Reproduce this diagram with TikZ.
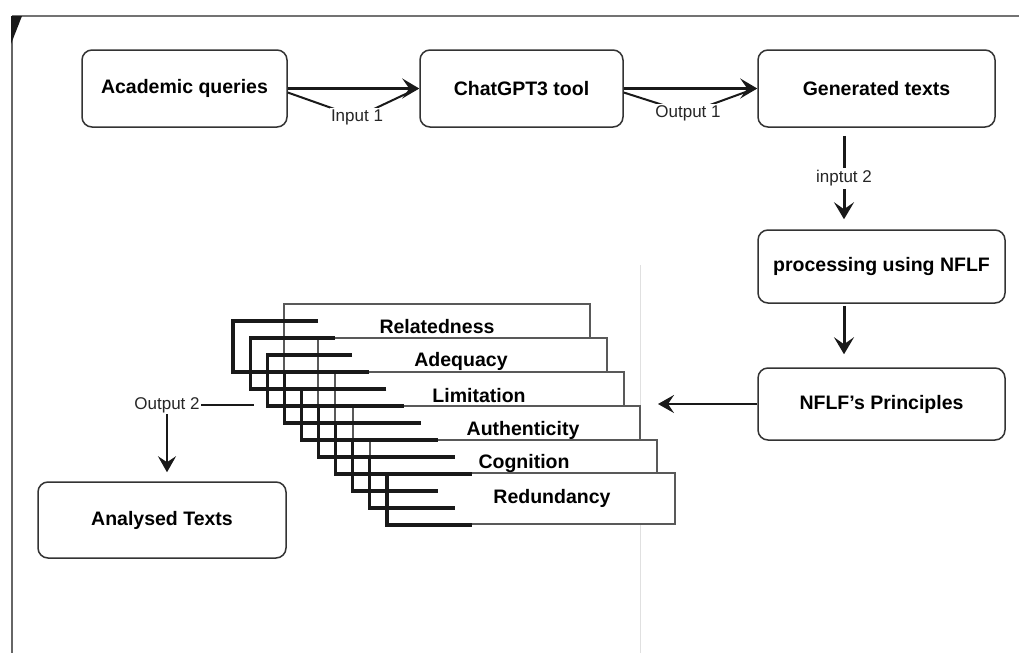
\documentclass[tikz,border=0pt]{standalone}
\usepackage{fontspec}
\setmainfont{Liberation Sans}
\usetikzlibrary{arrows.meta}
\begin{document}
\begin{tikzpicture}[x=1pt,y=-1pt,
  box/.style={draw=black!80, line width=1.5pt, rounded corners=10pt, fill=white, inner sep=0pt,
    font=\fontsize{19.5}{23}\selectfont\bfseries},
  lbl/.style={font=\fontsize{17}{20}\selectfont, text=black!85, inner sep=1.5pt},
  tab/.style={draw=black!65, line width=1.4pt, fill=white},
  tablbl/.style={font=\fontsize{19.5}{23}\selectfont\bfseries, inner sep=0pt},
  brk/.style={draw=black!90, line width=3.2pt},
  arr/.style={draw=black!90, line width=3pt, -{Stealth[length=17pt,width=20pt,inset=7pt]}},
  arrs/.style={draw=black!90, line width=2.8pt, -{Stealth[length=16pt,width=18pt,inset=6pt]}},
  diag/.style={draw=black!90, line width=2pt}]
\useasboundingbox (0,0) rectangle (1019,653);
% frame
\draw[black!55, line width=2pt] (12,16) -- (1019,16);
\draw[black!60, line width=2pt] (12,16) -- (12,653);
\fill[black!90] (11,16) -- (22,16) -- (11,44) -- cycle;
\draw[black!12, line width=1pt] (640,265) -- (640,653);

% main boxes
\node[box, minimum width=205pt, minimum height=77pt] (aq) at (184.5,88.5) {Academic queries};
\node[box, minimum width=203pt, minimum height=77pt] (cg) at (521.5,88.5) {ChatGPT3 tool};
\node[box, minimum width=237pt, minimum height=77pt] (gt) at (876.5,88.5) {Generated texts};
\node[box, minimum width=247pt, minimum height=73pt] (proc) at (881.5,266.5) {processing using NFLF};
\node[box, minimum width=247pt, minimum height=72pt] (nflf) at (881.5,404) {NFLF's Principles};
\node[box, minimum width=248pt, minimum height=76pt] (at) at (162,520) {Analysed Texts};

% top connectors
\draw[arr] (aq.east) -- (cg.west);
\draw[arr] (cg.east) -- (gt.west);
\coordinate (in1pos) at (357,117);
\coordinate (out1pos) at (688,113);
\draw[diag] ([yshift=-4pt]aq.east) -- (in1pos) -- ([xshift=-2pt]cg.west);
\draw[diag] ([yshift=-4pt]cg.east) -- (out1pos) -- ([xshift=-2pt]gt.west);
\node[lbl, fill=white] (in1) at (in1pos) {Input 1};
\node[lbl, fill=white] (out1) at (out1pos) {Output 1};

% vertical connectors
\draw[arr, shorten <=8pt, shorten >=10pt] ([xshift=-32.5pt]gt.south) -- node[lbl, fill=white, inner sep=3pt] (in2) {inptut 2} ([xshift=-37.5pt]proc.north);
\draw[arr, shorten <=2pt, shorten >=13pt] ([xshift=-37.5pt]proc.south) -- ([xshift=-37.5pt]nflf.north);

% tabs
\draw[tab] (284,304) rectangle (590,372);
\draw[tab] (318,338) rectangle (607,406);
\draw[tab] (335,372) rectangle (624,440);
\draw[tab] (353,406) rectangle (640,474);
\draw[tab] (370,440) rectangle (657,508);
\draw[tab] (387,473) rectangle (675,524);
\node[tablbl] (t1) at (437,327) {Relatedness};
\node[tablbl] (t2) at (461,361) {Adequacy};
\node[tablbl] (t3) at (479,396) {Limitation};
\node[tablbl] (t4) at (523,430) {Authenticity};
\node[tablbl] (t5) at (524,463) {Cognition};
\node[tablbl] (t6) at (552,498) {Redundancy};
% brackets
\foreach \k in {0,...,9} {
  \pgfmathsetmacro{\bx}{233+17.1*\k}
  \pgfmathsetmacro{\by}{321+17*\k}
  \draw[brk] (\bx+85,\by) -- (\bx,\by) -- (\bx,\by+51) -- (\bx+85,\by+51);
}

% NFLF -> tree
\coordinate (treein) at (658,404);
\draw[arrs] (nflf.west) -- (treein);

% output 2
\node[lbl] (o2) at (167,405) {Output 2};
\coordinate (o2end) at (254,405);
\draw[black!90, line width=2.5pt] (o2.east) -- (o2end);
\draw[arrs, shorten >=9pt] (o2.south) -- (o2.south |- at.north);
\end{tikzpicture}
\end{document}
